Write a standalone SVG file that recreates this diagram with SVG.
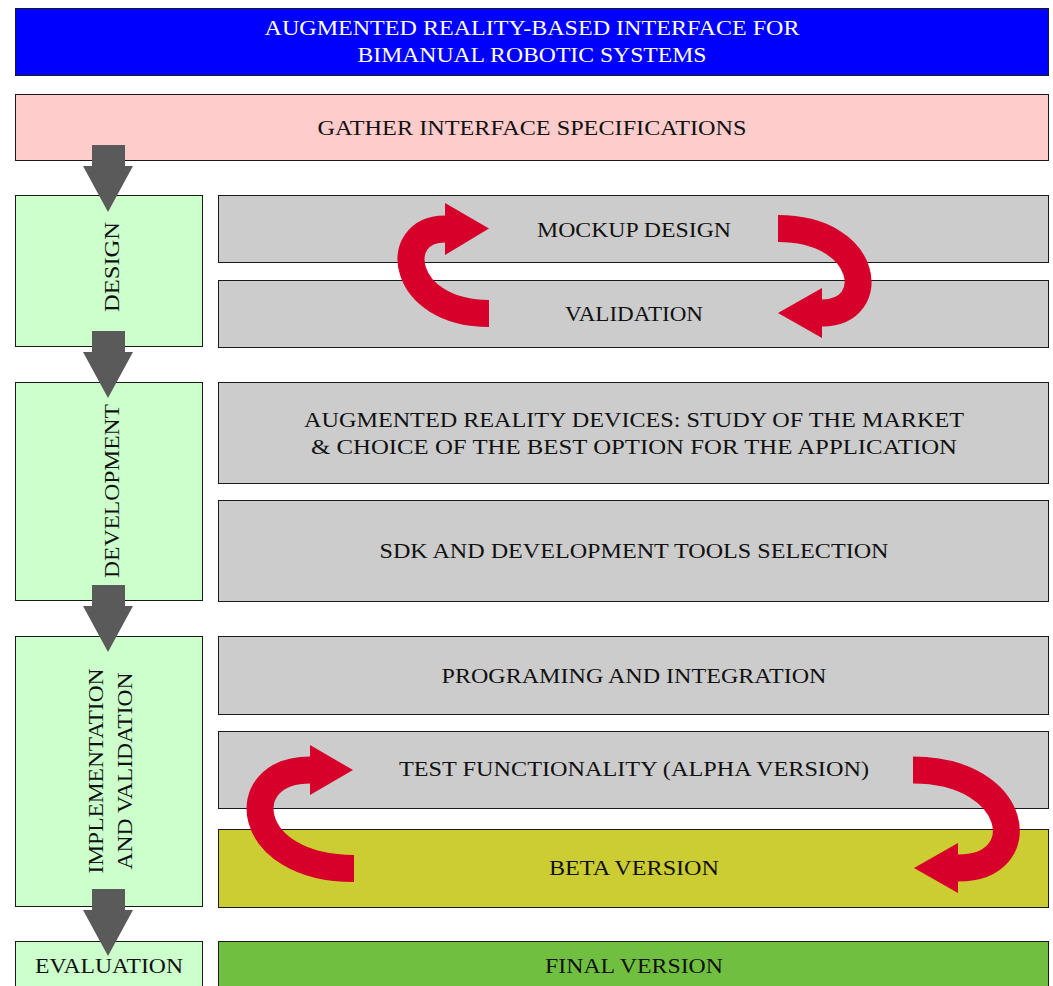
<svg xmlns="http://www.w3.org/2000/svg" width="1053" height="986" viewBox="0 0 1053 986">
<style>
.box{stroke:#1a1a1a;stroke-width:1}
.t{font-family:"Liberation Serif","DejaVu Serif",serif;font-size:21px;fill:#111;text-anchor:middle}
.w{fill:#fff}
.red{fill:none;stroke:#d6002a;stroke-width:27;stroke-linecap:butt}
.redh{fill:#d6002a}
.down{fill:#5a5a5a}
</style>
<rect width="1053" height="986" fill="#fff"/>
<g id="title"><rect class="box" x="15.5" y="8.5" width="1033" height="67" fill="#0000ff"/>
<text class="t w" x="532" y="35" textLength="535" lengthAdjust="spacingAndGlyphs">AUGMENTED REALITY-BASED INTERFACE FOR</text>
<text class="t w" x="532" y="62" textLength="349" lengthAdjust="spacingAndGlyphs">BIMANUAL ROBOTIC SYSTEMS</text></g>
<g id="gather"><rect class="box" x="15.5" y="94.5" width="1033" height="66" fill="#ffcccc"/>
<text class="t" x="532" y="135" textLength="429" lengthAdjust="spacingAndGlyphs">GATHER INTERFACE SPECIFICATIONS</text></g>
<g id="design"><rect class="box" x="15.5" y="195.5" width="187" height="151" fill="#ccffcc"/>
<text class="t" transform="translate(119,267) rotate(-90)" x="0" y="0" textLength="90" lengthAdjust="spacingAndGlyphs">DESIGN</text></g>
<g id="mockup"><rect class="box" x="218.5" y="195.5" width="830" height="67" fill="#cccccc"/>
<text class="t" x="634" y="236.5" textLength="194" lengthAdjust="spacingAndGlyphs">MOCKUP DESIGN</text></g>
<g id="validation"><rect class="box" x="218.5" y="280.5" width="830" height="67" fill="#cccccc"/>
<text class="t" x="634" y="320.5" textLength="138" lengthAdjust="spacingAndGlyphs">VALIDATION</text></g>
<g id="development"><rect class="box" x="15.5" y="382.5" width="187" height="218" fill="#ccffcc"/>
<text class="t" transform="translate(119,491) rotate(-90)" x="0" y="0" textLength="174" lengthAdjust="spacingAndGlyphs">DEVELOPMENT</text></g>
<g id="ardevices"><rect class="box" x="218.5" y="382.5" width="830" height="101" fill="#cccccc"/>
<text class="t" x="634" y="426.5" textLength="660" lengthAdjust="spacingAndGlyphs">AUGMENTED REALITY DEVICES: STUDY OF THE MARKET</text>
<text class="t" x="634" y="454" textLength="646" lengthAdjust="spacingAndGlyphs">&amp; CHOICE OF THE BEST OPTION FOR THE APPLICATION</text></g>
<g id="sdk"><rect class="box" x="218.5" y="500.5" width="830" height="101" fill="#cccccc"/>
<text class="t" x="634" y="558" textLength="509" lengthAdjust="spacingAndGlyphs">SDK AND DEVELOPMENT TOOLS SELECTION</text></g>
<g id="implementation"><rect class="box" x="15.5" y="636.5" width="187" height="270" fill="#ccffcc"/>
<text class="t" transform="translate(103,771) rotate(-90)" x="0" y="0" textLength="205" lengthAdjust="spacingAndGlyphs">IMPLEMENTATION</text>
<text class="t" transform="translate(132,771) rotate(-90)" x="0" y="0" textLength="197" lengthAdjust="spacingAndGlyphs">AND VALIDATION</text></g>
<g id="programing"><rect class="box" x="218.5" y="636.5" width="830" height="78" fill="#cccccc"/>
<text class="t" x="634" y="682.5" textLength="385" lengthAdjust="spacingAndGlyphs">PROGRAMING AND INTEGRATION</text></g>
<g id="test"><rect class="box" x="218.5" y="731.5" width="830" height="77" fill="#cccccc"/>
<text class="t" x="634" y="776" textLength="470" lengthAdjust="spacingAndGlyphs">TEST FUNCTIONALITY (ALPHA VERSION)</text></g>
<g id="beta"><rect class="box" x="218.5" y="829.5" width="830" height="78" fill="#cccc33"/>
<text class="t" x="634" y="875" textLength="170" lengthAdjust="spacingAndGlyphs">BETA VERSION</text></g>
<g id="evaluation"><rect class="box" x="15.5" y="941.5" width="187" height="60" fill="#ccffcc"/>
<text class="t" x="109" y="973" textLength="148" lengthAdjust="spacingAndGlyphs">EVALUATION</text></g>
<g id="final"><rect class="box" x="218.5" y="941.5" width="830" height="60" fill="#70bf41"/>
<text class="t" x="634" y="973" textLength="178" lengthAdjust="spacingAndGlyphs">FINAL VERSION</text></g>
<g id="connectors">
<path class="red" d="M489,313.5 C400,313.5 390,229 445,229"/>
<polygon class="redh" points="445,203 489,228.5 445,255"/>
<path class="red" d="M778,228.5 C870,228.5 880,313 822,313"/>
<polygon class="redh" points="822,288 778,313 822,338"/>
<path class="red" d="M354,868.5 C243,868.5 233,770 310,770"/>
<polygon class="redh" points="310,745 353,770 310,795"/>
<path class="red" d="M913,770 C1020,770 1035,868 958,868"/>
<polygon class="redh" points="958,843 914,868 958,893"/>
<polygon class="down" points="92,145 125,145 125,166 133,166 108,212 83,166 92,166"/>
<polygon class="down" points="92,331 125,331 125,352 133,352 108,398 83,352 92,352"/>
<polygon class="down" points="92,585 125,585 125,606 133,606 108,652 83,606 92,606"/>
<polygon class="down" points="92,889 125,889 125,910 133,910 108,956 83,910 92,910"/>
</g>
</svg>
